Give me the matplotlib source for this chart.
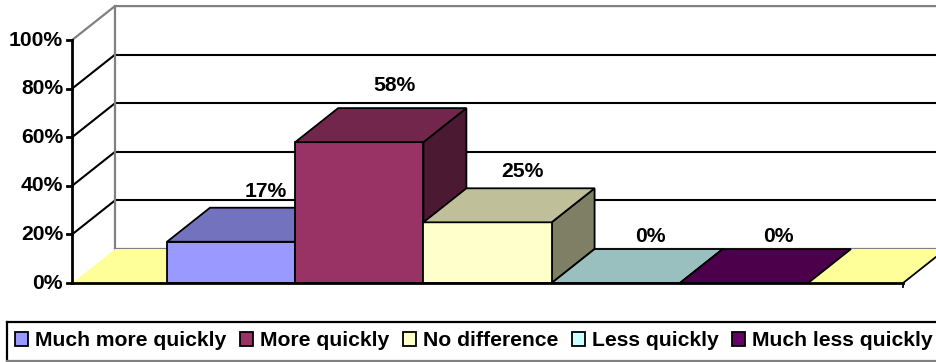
import matplotlib.pyplot as plt
from matplotlib.patches import Polygon, Patch
from matplotlib.lines import Line2D

plt.rcParams['font.family'] = ['Liberation Sans', 'DejaVu Sans']
plt.rcParams['font.weight'] = 'bold'

categories = ['Much more quickly', 'More quickly', 'No difference', 'Less quickly', 'Much less quickly']
values = [17, 58, 25, 0, 0]
colors = ['#9999FF', '#993366', '#FFFFCC', '#CCFFFF', '#660066']
yticks = [0, 20, 40, 60, 80, 100]

floor_color = '#FFFF99'
dx, dy = 0.335, 14.0          # depth offset (category units, percent units)
x0, x1 = -1.241, 5.241        # floor extent

def shade(c, f):
    c = c.lstrip('#')
    r, g, b = (int(c[i:i + 2], 16) for i in (0, 2, 4))
    return '#%02x%02x%02x' % (int(r * f), int(g * f), int(b * f))

def poly(ax, pts, fc, ec='black', lw=1.3, z=2):
    ax.add_patch(Polygon(pts, closed=True, fc=fc, ec=ec, lw=lw, zorder=z, joinstyle='miter'))

fig = plt.figure(figsize=(9.37, 3.62), dpi=100)
ax = fig.add_axes([0, 0, 1, 1])
ax.set_xlim(-1.803, 5.506)
ax.set_ylim(-32.5, 116.5)
ax.axis('off')

# walls and gridlines
for t in yticks[1:-1]:
    ax.plot([x0, x0 + dx], [t, t + dy], color='black', lw=1.5, zorder=1)
    ax.plot([x0 + dx, x1 + dx + 1], [t + dy, t + dy], color='black', lw=1.5, zorder=1)
ax.plot([x0, x0 + dx, x1 + dx + 1], [100, 100 + dy, 100 + dy], color='#808080', lw=1.6, zorder=1)
ax.plot([x0 + dx, x0 + dx], [dy, 100 + dy], color='#808080', lw=1.6, zorder=1)
ax.plot([x0 + dx, x1 + dx], [dy, dy], color='#808080', lw=1.6, zorder=1)

# floor pieces at both ends
poly(ax, [(x0, 0), (-0.5, 0), (-0.5 + dx, dy), (x0 + dx, dy)], floor_color, ec='none', z=1.5)
poly(ax, [(4.5, 0), (x1, 0), (x1 + dx, dy), (4.5 + dx, dy)], floor_color, ec='none', z=1.5)
ax.plot([x1, x1 + dx], [0, dy], color='black', lw=1.3, zorder=1.6)

# bars, drawn left to right
for i, (v, c) in enumerate(zip(values, colors)):
    l, r = i - 0.5, i + 0.5
    z = 2 + i * 0.1
    if v > 0:
        poly(ax, [(r, 0), (r + dx, dy), (r + dx, v + dy), (r, v)], shade(c, 0.5), z=z)
        poly(ax, [(l, 0), (r, 0), (r, v), (l, v)], c, z=z)
    poly(ax, [(l, v), (r, v), (r + dx, v + dy), (l + dx, v + dy)], shade(c, 0.75), z=z)
    ax.text(i + 0.27, v + dy + 5.3 + 0.07 * v, f'{v}%', ha='center', va='center',
            fontsize=15.2, fontweight='bold', zorder=5)

# front floor edge and y axis
ax.plot([x0, x1], [0, 0], color='black', lw=2, zorder=4)
ax.plot([x1, x1], [0, -1.5], color='black', lw=1.3, zorder=4)
ax.plot([x0, x0], [0, 100], color='black', lw=2, zorder=4)
for t in yticks:
    ax.plot([x0 - 0.04, x0], [t, t], color='black', lw=2, zorder=4)
    ax.text(x0 - 0.07, t, f'{t}%', ha='right', va='center', fontsize=15.2, fontweight='bold')

# legend
handles = [Patch(fc=c, ec='black', lw=1.3) for c in colors]
fig.legend(handles, categories, loc='center left', bbox_to_anchor=(15 / 937, 1 - 341 / 362),
           ncol=5, frameon=False, fontsize=15.2, handlelength=0.62, handleheight=0.62,
           handletextpad=0.33, columnspacing=0.64, borderpad=0, borderaxespad=0)
W, H = 937, 362
fig.add_artist(Line2D([7 / W, 7 / W], [1 - 322 / H, 1 - 361 / H], color='black', lw=1.6))
fig.add_artist(Line2D([7 / W, 1], [1 - 322 / H, 1 - 322 / H], color='black', lw=1.6))
fig.add_artist(Line2D([7 / W, 1], [1 - 360.5 / H, 1 - 360.5 / H], color='#808080', lw=1.6))

fig.savefig('out.png', dpi=100)
